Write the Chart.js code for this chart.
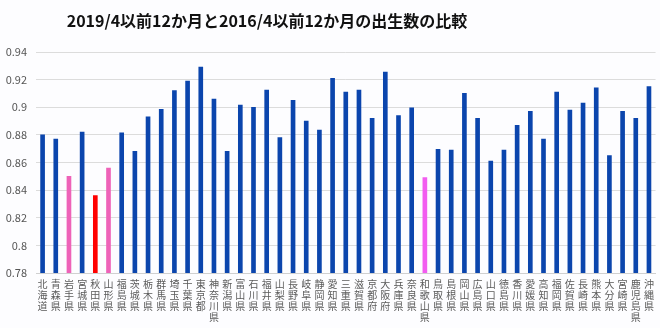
<!DOCTYPE html>
<html>
<head>
<meta charset="utf-8">
<script src="https://cdn.jsdelivr.net/npm/chart.js@4"></script>
<style>
  html, body { margin: 0; padding: 0; background: #fdfdff; }
  #wrap { position: relative; width: 660px; height: 328px; }
  #title {
    position: absolute; left: 0; top: 8px; width: 534px; text-align: center;
    font: bold 16px "Noto Sans CJK JP", sans-serif; color: #111;
  }
</style>
</head>
<body>
<div id="wrap">
  <div id="title">2019/4以前12か月と2016/4以前12か月の出生数の比較</div>
  <canvas id="myChart" width="660" height="328"></canvas>
</div>
<script>
// 都道府県
const prefs = ['北海道','青森県','岩手県','宮城県','秋田県','山形県','福島県','茨城県','栃木県','群馬県',
  '埼玉県','千葉県','東京都','神奈川県','新潟県','富山県','石川県','福井県','山梨県','長野県',
  '岐阜県','静岡県','愛知県','三重県','滋賀県','京都府','大阪府','兵庫県','奈良県','和歌山県',
  '鳥取県','島根県','岡山県','広島県','山口県','徳島県','香川県','愛媛県','高知県','福岡県',
  '佐賀県','長崎県','熊本県','大分県','宮崎県','鹿児島県','沖縄県'];

// 出生数の比 (2019/4以前12か月 ÷ 2016/4以前12か月)
const ratios = [0.880, 0.877, 0.850, 0.882, 0.836, 0.856, 0.8815, 0.868, 0.893, 0.8985,
  0.912, 0.919, 0.929, 0.906, 0.868, 0.9015, 0.900, 0.9125, 0.878, 0.905,
  0.890, 0.8835, 0.921, 0.911, 0.9125, 0.892, 0.9255, 0.894, 0.8995, 0.849,
  0.8695, 0.869, 0.910, 0.892, 0.861, 0.869, 0.887, 0.897, 0.877, 0.911,
  0.898, 0.903, 0.914, 0.865, 0.897, 0.892, 0.915];

const yTicks = [0.78, 0.8, 0.82, 0.84, 0.86, 0.88, 0.9, 0.92, 0.94];

// 色分け
const baseColor = '#0b45ad';
const highlight = { '岩手県': '#ee62b8', '山形県': '#ee62b8', '秋田県': '#ff0000', '和歌山県': '#f25cf0' };

const ctx = document.getElementById('myChart');
new Chart(ctx, {
  type: 'bar',
  data: {
    labels: prefs.map(p => p.split('')),   //縦書き
    datasets: [{
      data: ratios,
      backgroundColor: prefs.map(p => highlight[p] || baseColor),
      barThickness: 4
    }]
  },
  options: {
    responsive: false,
    animation: false,
    layout: { padding: { top: 52, right: 4, left: 0, bottom: 0 } },
    plugins: { legend: { display: false }, tooltip: { enabled: false } },
    scales: {
      x: {
        grid: { display: false, drawTicks: false },
        border: { color: '#d0d0d0' },
        ticks: {
          autoSkip: false, maxRotation: 0, minRotation: 0, padding: 6,
          color: '#5a5a5a',
          font: { family: '"Noto Sans CJK JP"', size: 10, lineHeight: 1.08 }
        },
        afterFit: s => { s.height = 55; }
      },
      y: {
        min: 0.78, max: 0.94,
        afterBuildTicks: s => { s.ticks = yTicks.map(v => ({ value: v })); },
        grid: { color: '#dcdcdc', drawTicks: false },
        border: { display: false },
        ticks: {
          padding: 9, color: '#555',
          font: { family: '"Noto Sans CJK JP"', size: 11 },
          callback: v => String(+v.toFixed(2))
        },
        afterFit: s => { s.width = 36; }
      }
    }
  }
});
</script>
</body>
</html>
